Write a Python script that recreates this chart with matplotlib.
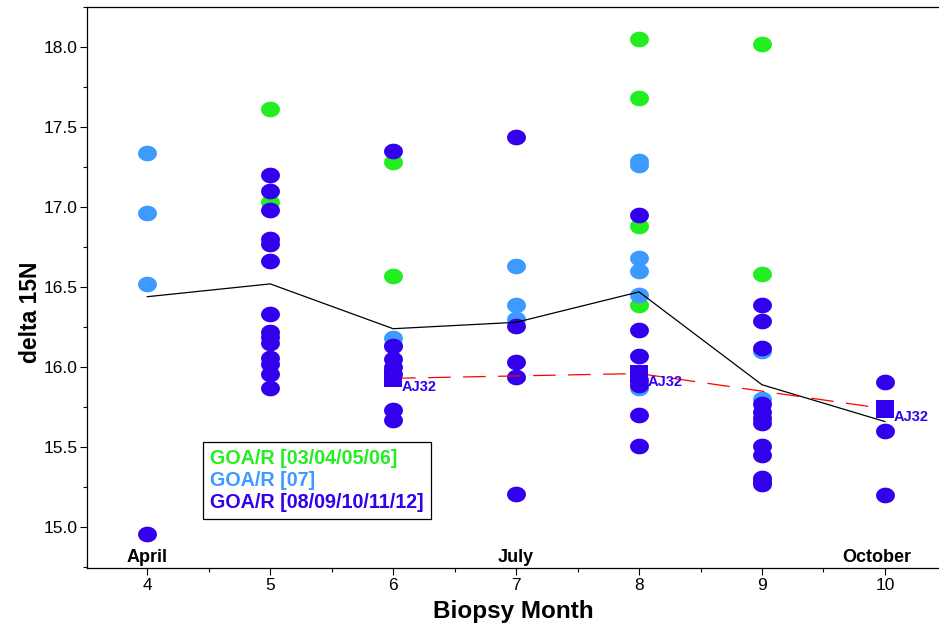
import matplotlib
matplotlib.use("Agg")
import matplotlib.pyplot as plt
from matplotlib.path import Path
from matplotlib.markers import MarkerStyle
from matplotlib.lines import Line2D
from matplotlib.ticker import MultipleLocator, FormatStrFormatter
from matplotlib import font_manager
import numpy as np

# ---------------- data ----------------
green_x = [5, 5, 6, 6, 8, 8, 8, 8, 9, 9]
green_y = [17.61, 17.03, 17.28, 16.57, 18.05, 17.68, 16.88, 16.39, 18.02, 16.58]

lblue_x = [4, 4, 4, 6, 6, 7, 7, 7, 8, 8, 8, 8, 8, 8, 9, 9]
lblue_y = [17.34, 16.96, 16.52, 16.18, 16.14, 16.63, 16.39, 16.30,
           17.29, 17.26, 16.68, 16.60, 16.45, 15.87, 16.10, 15.80]

purple_x = [4,
            5, 5, 5, 5, 5, 5, 5, 5, 5, 5, 5, 5, 5, 5,
            6, 6, 6, 6, 6, 6, 6,
            7, 7, 7, 7, 7,
            8, 8, 8, 8, 8, 8, 8,
            9, 9, 9, 9, 9, 9, 9, 9, 9, 9, 9, 9,
            10, 10, 10]
purple_y = [14.96,
            17.20, 17.10, 16.98, 16.80, 16.77, 16.66, 16.33, 16.22, 16.19, 16.15, 16.06, 16.02, 15.96, 15.87,
            17.35, 16.13, 16.05, 16.00, 15.96, 15.73, 15.67,
            17.44, 16.26, 16.03, 15.94, 15.21,
            16.95, 16.23, 16.07, 15.92, 15.89, 15.70, 15.51,
            16.39, 16.29, 16.12, 15.77, 15.72, 15.68, 15.65, 15.51, 15.45, 15.31, 15.29, 15.27,
            15.91, 15.60, 15.20]

mean_x = [4, 5, 6, 7, 8, 9, 10]
mean_y = [16.44, 16.52, 16.24, 16.28, 16.47, 15.89, 15.66]

aj32_x = [6, 8, 10]
aj32_y = [15.93, 15.96, 15.74]
aj32_label = "AJ32"

month_x = [4, 7, 9.93]
month_labels = ["April", "July", "October"]

legend_labels = ["GOA/R [03/04/05/06]", "GOA/R [07]", "GOA/R [08/09/10/11/12]"]
x_label = "Biopsy Month"
y_label = "delta 15N"

# ---------------- style ----------------
C_GREEN = "#22EE22"
C_LBLUE = "#3D9BFF"
C_PURPLE = "#3300EE"

names = {f.name for f in font_manager.fontManager.ttflist}
narrow = "Liberation Sans Narrow" if "Liberation Sans Narrow" in names else "Liberation Sans"
sans = "Liberation Sans" if "Liberation Sans" in names else "DejaVu Sans"
plt.rcParams['font.family'] = [sans, 'DejaVu Sans']

# ellipse marker (wider than tall)
t = np.linspace(0, 2 * np.pi, 60)
ell_path = Path(np.column_stack([np.cos(t), 0.83 * np.sin(t)]), closed=True)
ell = MarkerStyle(ell_path)

fig = plt.figure(figsize=(9.39, 6.25), dpi=100)
ax = fig.add_axes([0.0927, 0.0912, 0.9073, 0.8976])

ms = 13.6
ax.plot(green_x, green_y, linestyle='none', marker=ell, markersize=ms,
        color=C_GREEN, markeredgewidth=0, zorder=3)
ax.plot(lblue_x, lblue_y, linestyle='none', marker=ell, markersize=ms,
        color=C_LBLUE, markeredgewidth=0, zorder=4)
ax.plot(purple_x, purple_y, linestyle='none', marker=ell, markersize=ms,
        color=C_PURPLE, markeredgewidth=0, zorder=5)

ax.plot(mean_x, mean_y, color='black', linewidth=0.9, zorder=6)
ax.plot(aj32_x, aj32_y, color='red', linewidth=0.9, dashes=(18, 10), zorder=6)
ax.plot(aj32_x, aj32_y, linestyle='none', marker='s', markersize=12.5,
        color=C_PURPLE, markeredgewidth=0, zorder=7)
for xx, yy in zip(aj32_x, aj32_y):
    ax.annotate(aj32_label, (xx, yy), xytext=(6, -6), textcoords='offset points',
                ha='left', va='center', fontsize=10.5, fontweight='bold',
                color=C_PURPLE, zorder=8)

for mx, ml in zip(month_x, month_labels):
    ax.text(mx, 14.81, ml, ha='center', va='center', fontsize=13,
            fontweight='bold', color='black')

ax.set_xlim(3.51, 10.44)
ax.set_ylim(14.745, 18.25)
ax.xaxis.set_major_locator(MultipleLocator(1))
ax.xaxis.set_minor_locator(MultipleLocator(0.5))
ax.yaxis.set_major_locator(MultipleLocator(0.5))
ax.yaxis.set_minor_locator(MultipleLocator(0.25))
ax.yaxis.set_major_formatter(FormatStrFormatter('%.1f'))
ax.tick_params(axis='both', which='major', length=5, width=0.8, direction='out',
               labelsize=12.5, pad=2)
ax.tick_params(axis='both', which='minor', length=3, width=0.8, direction='out')
for lab in ax.get_xticklabels() + ax.get_yticklabels():
    lab.set_fontfamily(narrow)

ax.spines['right'].set_visible(False)
for s in ['left', 'bottom', 'top']:
    ax.spines[s].set_linewidth(0.9)

ax.set_xlabel(x_label, fontsize=17.5, fontweight='bold', labelpad=5)
ax.set_ylabel(y_label, fontsize=16.5, fontweight='bold', va='center')
ax.yaxis.set_label_coords(-0.066, 0.456)

handles = [Line2D([], [], linestyle='none') for _ in legend_labels]
leg = ax.legend(handles, legend_labels, loc='upper left',
                bbox_to_anchor=(0.1362, 0.2246), borderaxespad=0,
                handlelength=0, handletextpad=0,
                labelcolor=[C_GREEN, C_LBLUE, C_PURPLE], fancybox=False,
                edgecolor='black', framealpha=1, borderpad=0.35,
                labelspacing=0.15, prop={'weight': 'bold', 'size': 14.2})
leg.get_frame().set_linewidth(0.9)

fig.savefig("out.png", dpi=100)
